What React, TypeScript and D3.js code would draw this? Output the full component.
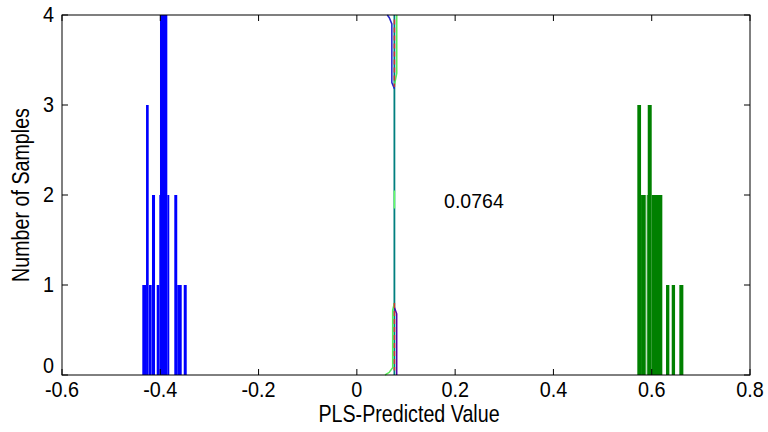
import React from "react";
import * as d3 from "d3";

// Histogram bars: [left edge, right edge, count]
const blueBars: [number, number, number][] = [
  [-0.4366, -0.4290, 1],
  [-0.4290, -0.4236, 3],
  [-0.4230, -0.4175, 1],
  [-0.4169, -0.4107, 2],
  [-0.4073, -0.4020, 1],
  [-0.4020, -0.4006, 2],
  [-0.4006, -0.3857, 4],
  [-0.3857, -0.3817, 2],
  [-0.3715, -0.3655, 2],
  [-0.3655, -0.3564, 1],
  [-0.3523, -0.3462, 1],
];
const greenBars: [number, number, number][] = [
  [0.5707, 0.5783, 3],
  [0.5783, 0.5878, 2],
  [0.5899, 0.5919, 2],
  [0.5919, 0.6000, 3],
  [0.6000, 0.6216, 2],
  [0.6291, 0.6359, 1],
  [0.6407, 0.6475, 1],
  [0.6562, 0.6644, 1],
];

const thresholdLabel = "0.0764";

// Curves near the threshold: [x, y]
const tealLine: [number, number][] = [[0.0764, 0], [0.0764, 4]];
const blueTop: [number, number][] = [[0.062, 4], [0.066, 3.97], [0.0712, 3.9], [0.0712, 3.25], [0.0764, 3.18]];
const greenTop: [number, number][] = [[0.0812, 4], [0.0812, 3.35], [0.0764, 3.22]];
const greenMid: [number, number][] = [[0.0764, 1.85], [0.0764, 2.05]];
const redTop: [number, number][] = [[0.0764, 3.95], [0.0764, 3.2]];
const greenBottom: [number, number][] = [[0.0764, 0.8], [0.0729, 0.72], [0.0729, 0.08], [0.066, 0.03], [0.0574, 0]];
const purpleBottom: [number, number][] = [[0.0764, 0.75], [0.0811, 0.68], [0.0811, 0]];
const redBottom: [number, number][] = [[0.0764, 0.8], [0.0764, 0.05]];

const xTicks = [-0.6, -0.4, -0.2, 0, 0.2, 0.4, 0.6, 0.8];
const yTicks = [0, 1, 2, 3, 4];

const xLabel = "PLS-Predicted Value";
const yLabel = "Number of Samples";

export default function App() {
  const W = 768, H = 432;
  const left = 62, right = 750, top = 15, bottom = 375;
  const x = d3.scaleLinear().domain([-0.6, 0.8]).range([left, right]);
  const y = d3.scaleLinear().domain([0, 4]).range([bottom, top]);
  const line = d3.line<[number, number]>().x(d => x(d[0])).y(d => y(d[1]));
  const font = "'Liberation Sans', Arial, sans-serif";
  const tickLen = 6;
  const fmt = (v: number) => (v === 0 ? "0" : String(v));
  const tickFs = 22, tickSx = 0.9;
  const titleFs = 24, titleSx = 0.82;

  return (
    <svg width={W} height={H} style={{ position: "absolute", left: 0, top: 0, background: "#fff" }}>
      <rect x={0} y={0} width={W} height={H} fill="#fff" />
      {blueBars.map((b, i) => (
        <rect key={"b" + i} x={x(b[0])} width={x(b[1]) - x(b[0])} y={y(b[2])} height={y(0) - y(b[2])} fill="#0000ff" />
      ))}
      {greenBars.map((b, i) => (
        <rect key={"g" + i} x={x(b[0])} width={x(b[1]) - x(b[0])} y={y(b[2])} height={y(0) - y(b[2])} fill="#008000" />
      ))}
      <path d={line(tealLine) || ""} stroke="#007f7f" strokeWidth={1.8} fill="none" />
      <path d={line(greenMid) || ""} stroke="#66ff66" strokeWidth={1.5} fill="none" />
      <path d={line(greenTop) || ""} stroke="#55ee55" strokeWidth={1.5} fill="none" />
      <path d={line(blueTop) || ""} stroke="#2222cc" strokeWidth={1.5} fill="none" />
      <path d={line(redTop) || ""} stroke="#cc3333" strokeWidth={1.5} strokeDasharray="5,3" fill="none" />
      <path d={line(greenBottom) || ""} stroke="#55ee55" strokeWidth={1.5} fill="none" />
      <path d={line(purpleBottom) || ""} stroke="#5500aa" strokeWidth={1.5} fill="none" />
      <path d={line(redBottom) || ""} stroke="#cc3333" strokeWidth={1.5} strokeDasharray="5,3" fill="none" />
      <text transform={`translate(${x(0.1775)}, ${y(1.87) + 1})`} fontFamily={font} fontSize={19.5} fill="#000">{thresholdLabel}</text>
      {/* axes box */}
      <rect x={left} y={top} width={right - left} height={bottom - top} fill="none" stroke="#000" strokeWidth={1} />
      {xTicks.map((t, i) => (
        <g key={"xt" + i}>
          <line x1={x(t)} x2={x(t)} y1={bottom} y2={bottom - tickLen} stroke="#000" />
          <line x1={x(t)} x2={x(t)} y1={top} y2={top + tickLen} stroke="#000" />
          <text transform={`translate(${x(t)}, ${bottom + 22}) scale(${tickSx},1)`} textAnchor="middle" fontFamily={font} fontSize={tickFs} fill="#000">{fmt(t)}</text>
        </g>
      ))}
      {yTicks.map((t, i) => (
        <g key={"yt" + i}>
          <line x1={left} x2={left + tickLen} y1={y(t)} y2={y(t)} stroke="#000" />
          <line x1={right} x2={right - tickLen} y1={y(t)} y2={y(t)} stroke="#000" />
          <text transform={`translate(${left - 8}, ${y(t) + (t === 0 ? -2 : 7)}) scale(${tickSx},1)`} textAnchor="end" fontFamily={font} fontSize={tickFs} fill="#000">{t}</text>
        </g>
      ))}
      <text transform={`translate(409, 422) scale(${titleSx},1)`} textAnchor="middle" fontFamily={font} fontSize={titleFs} fill="#000">{xLabel}</text>
      <text transform={`translate(29, ${(top + bottom) / 2}) rotate(-90) scale(${titleSx},1)`} textAnchor="middle" fontFamily={font} fontSize={titleFs} fill="#000">{yLabel}</text>
    </svg>
  );
}
